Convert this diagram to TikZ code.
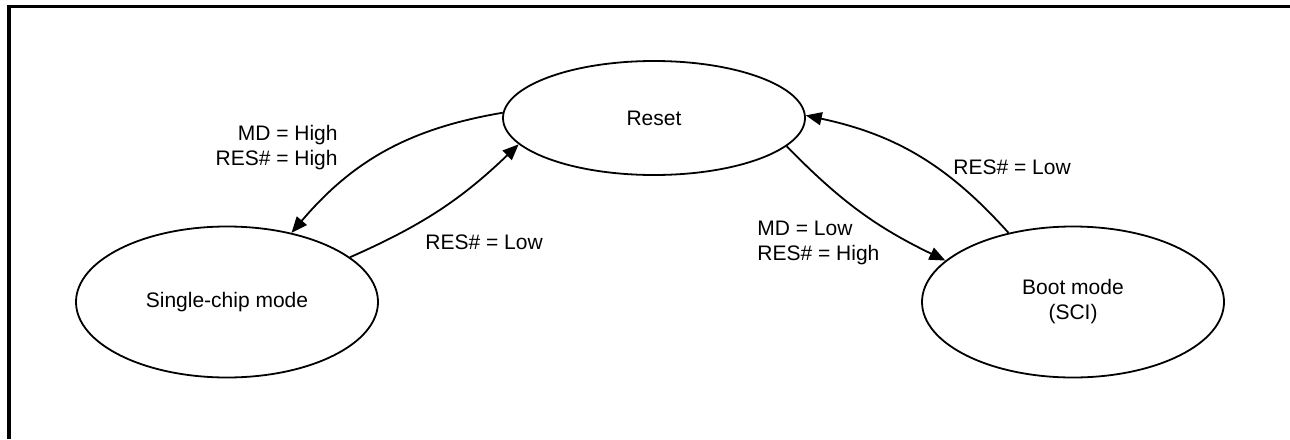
\documentclass[tikz,border=0pt]{standalone}
\usepackage{fontspec}
\setmainfont{Liberation Sans}
\usetikzlibrary{shapes.geometric, arrows.meta, positioning}
\tikzstyle{state} = [ellipse, draw=black, line width=0.9pt, inner sep=0pt, minimum width=151pt, minimum height=75.5pt, align=center]
\tikzstyle{cond} = [inner sep=0pt, align=left]
\tikzstyle{arrow} = [line width=0.9pt, -{Triangle[length=8pt,width=6.5pt]}]

\begin{document}
\begin{tikzpicture}[x=0.5pt, y=-0.5pt, font=\fontsize{10.5}{12.5}\selectfont]
\useasboundingbox (0,0) rectangle (1290,439);

% Frame
\draw[line width=1.7pt] (9,439) -- (9,6.7) -- (1290,6.7);

% States
\node (reset) [state, minimum height=57pt] at (654,118) {Reset};
\node (single) [state] at (227,302) {Single-chip mode};
\node (boot) [state] at (1073,302) {Boot mode\\(SCI)};

% Transitions
\draw [arrow] (reset.178) to [bend right=20] (single.47);
\draw [arrow] (single.20) to [bend right=10] (reset.191);
\draw [arrow] (reset.-12) to [bend right=10] (boot.162);
\draw [arrow] (boot.133) to [bend right=18] (reset.1);

% Conditions
\node (high_cond) [cond, anchor=east, align=right] at (338,147.5) {MD = High\\RES\# = High};
\node (low_left) [cond, anchor=west] at (425,242) {RES\# = Low};
\node (low_cond) [cond, anchor=west] at (757,242.5) {MD = Low\\RES\# = High};
\node (low_right) [cond, anchor=west] at (953,167) {RES\# = Low};

\end{tikzpicture}
\end{document}
